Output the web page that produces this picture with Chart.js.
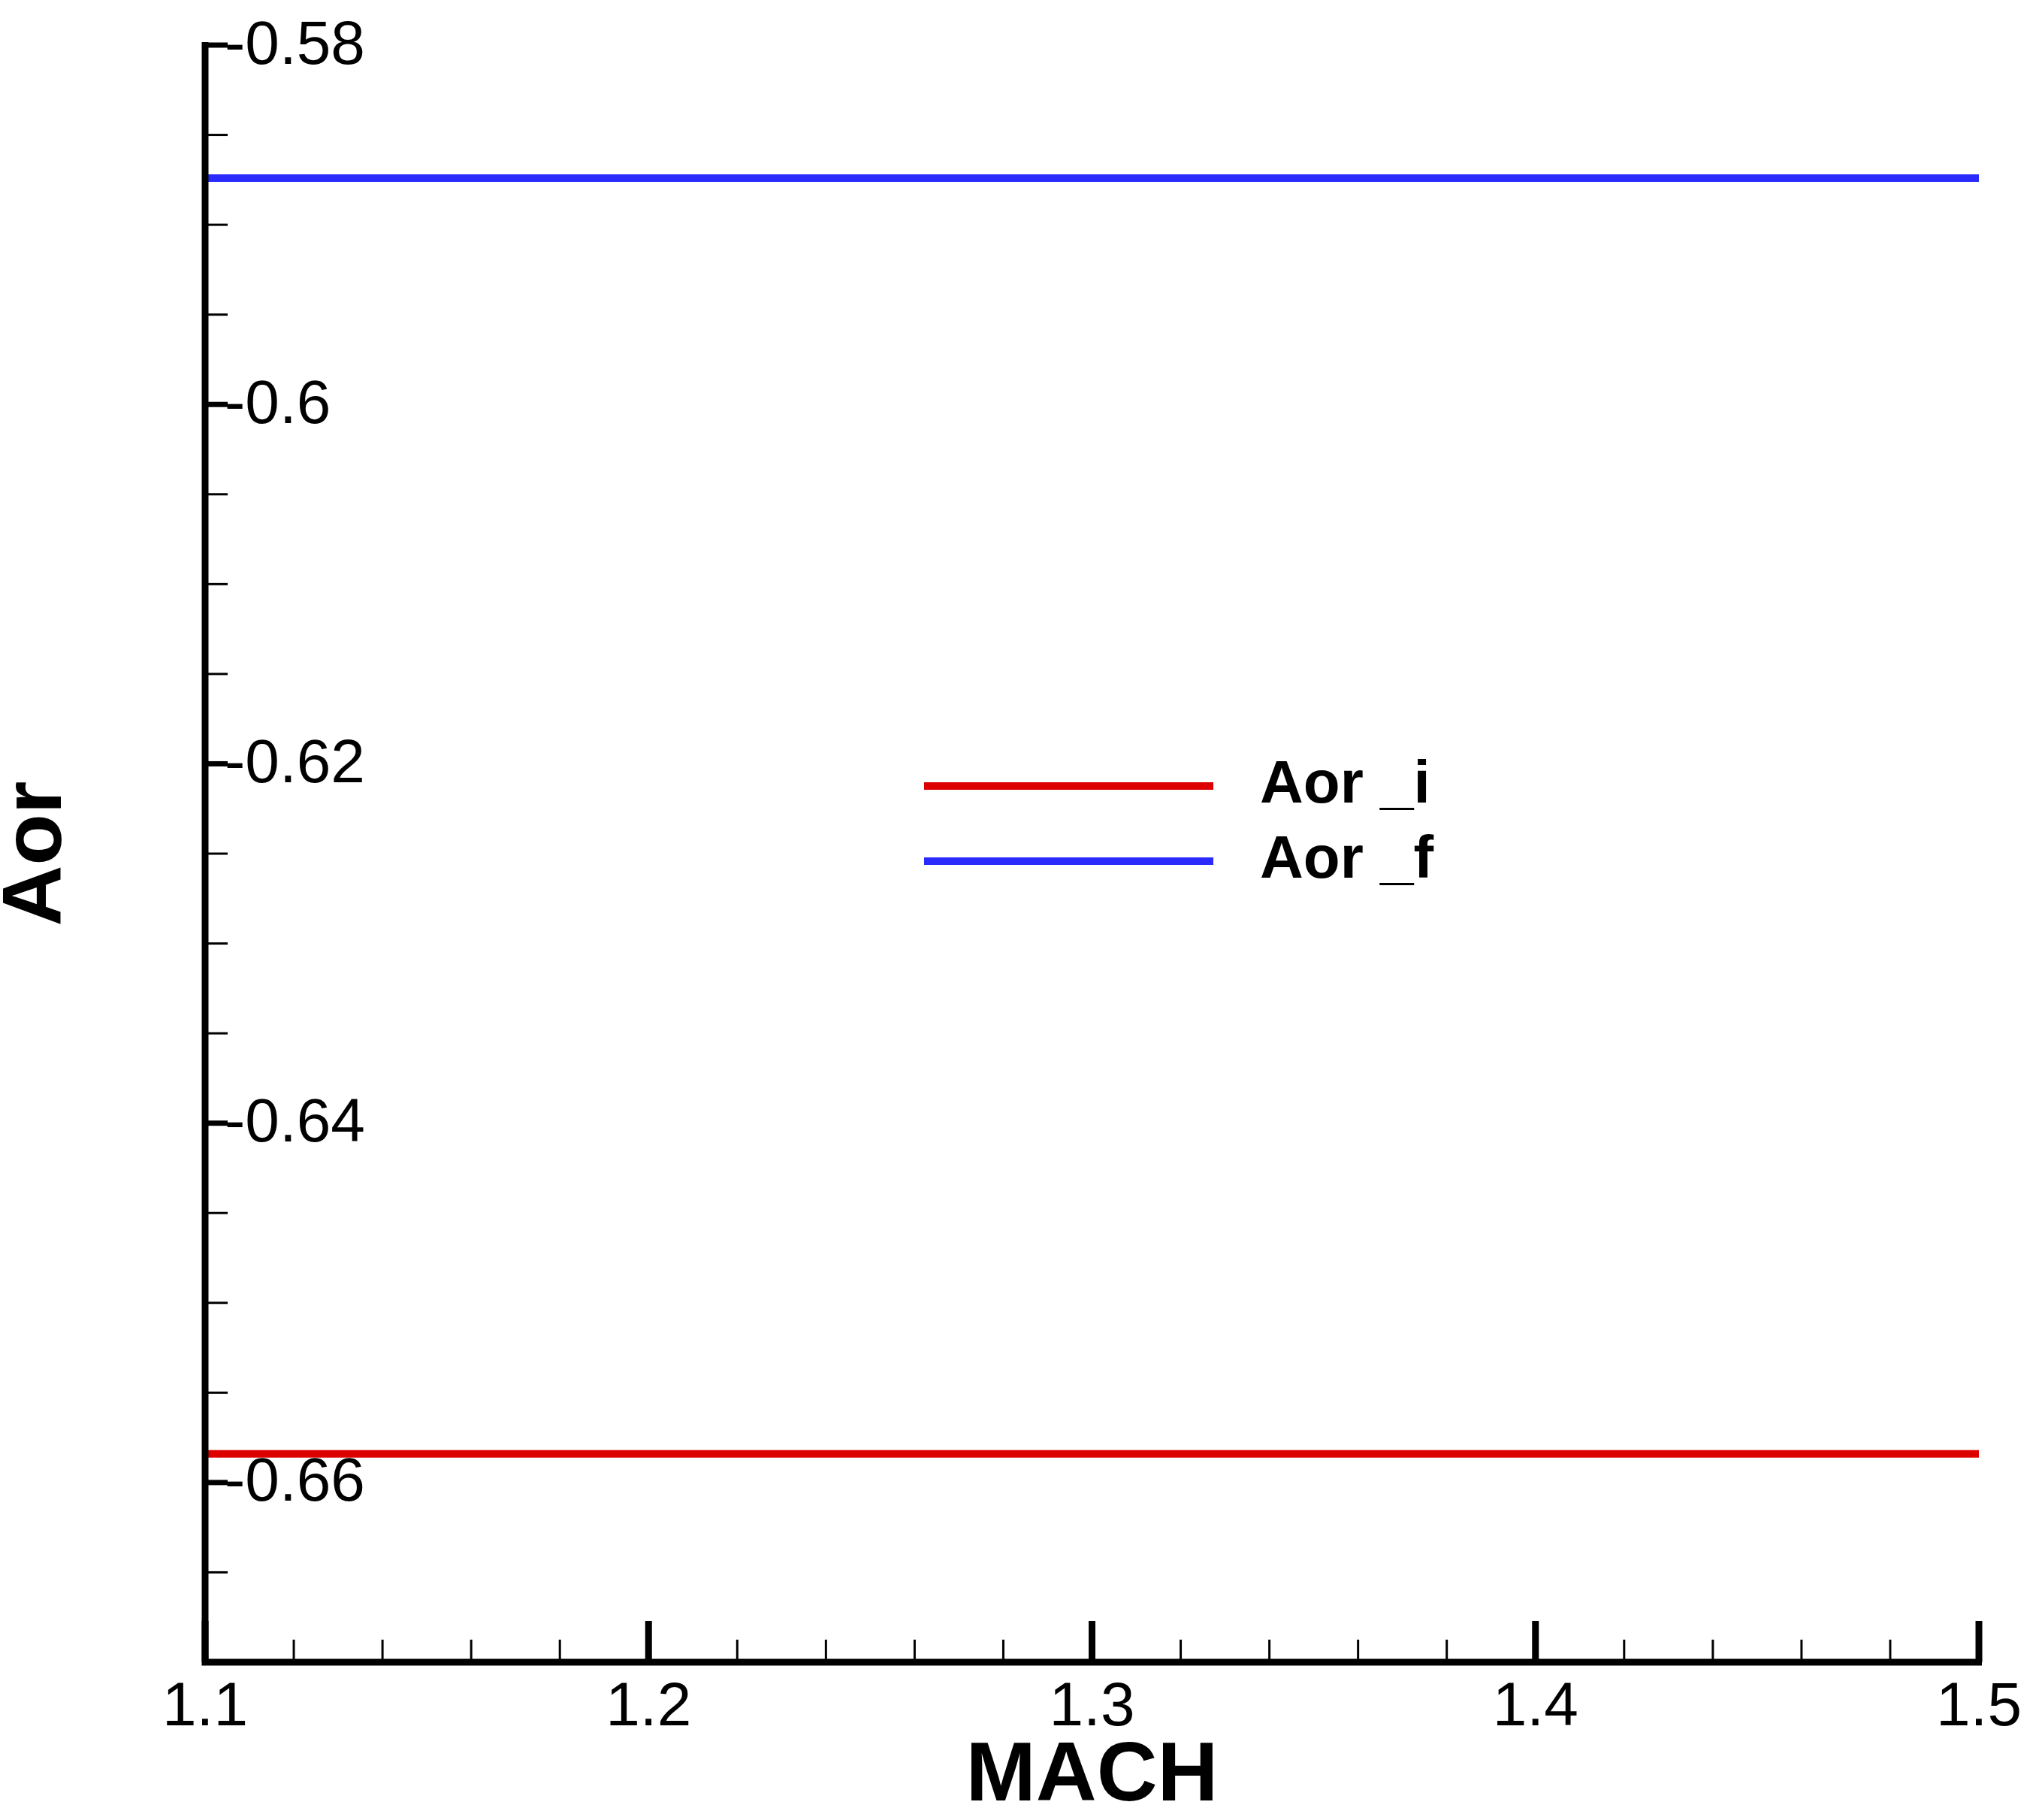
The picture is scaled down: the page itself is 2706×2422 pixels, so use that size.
<!DOCTYPE html>
<html><head><meta charset="utf-8">
<script src="https://cdn.jsdelivr.net/npm/chart.js@4/dist/chart.umd.min.js"></script>
<style>html,body{margin:0;padding:0;background:#fff}#w{width:2706px;height:2422px}</style>
</head><body><div id="w"><canvas id="c"></canvas></div>
<script>
const machValues = [1.1, 1.5];
const aorI = [-0.6584, -0.6584];
const aorF = [-0.5874, -0.5874];
const seriesNames = ['Aor _i', 'Aor _f'];
const seriesColors = ['#dd0000', '#2a2aff'];
const xTickLabels = ['1.1','1.2','1.3','1.4','1.5'];
const yTickLabels = ['-0.58','-0.6','-0.62','-0.64','-0.66'];
const xMin=1.1, xMax=1.5, yMin=-0.67, yMax=-0.58;
const FONT = '"Liberation Sans", Arial, sans-serif';

const axesPlugin = {
  id:'axesPlugin',
  afterDraw(chart){
    const ctx=chart.ctx, a=chart.chartArea, xs=chart.scales.x, ys=chart.scales.y;
    ctx.save();
    ctx.strokeStyle='#000'; ctx.lineCap='butt';
    ctx.lineWidth=9;
    ctx.beginPath(); ctx.moveTo(a.left,a.top-4); ctx.lineTo(a.left,a.bottom); ctx.lineTo(a.right+4,a.bottom); ctx.stroke();
    // y ticks
    for(let i=0;i<=18;i++){
      const v=yMax-i*0.005; if(v<yMin-1e-9) break;
      const p=ys.getPixelForValue(v); const major=i%4===0;
      ctx.lineWidth=major?7:3;
      ctx.beginPath(); ctx.moveTo(a.left,p); ctx.lineTo(a.left+(major?30:30),p); ctx.stroke();
    }
    // x ticks
    for(let i=0;i<=20;i++){
      const v=xMin+i*0.02; const p=xs.getPixelForValue(v); const major=i%5===0;
      ctx.lineWidth=major?9:3;
      ctx.beginPath(); ctx.moveTo(p,a.bottom); ctx.lineTo(p,a.bottom-(major?55:30)); ctx.stroke();
    }
    ctx.fillStyle='#000';
    ctx.font='82px '+FONT;
    ctx.textAlign='left'; ctx.textBaseline='middle';
    yTickLabels.forEach(t=>{ ctx.fillText(t, a.left+26, ys.getPixelForValue(parseFloat(t))+2); });
    ctx.textAlign='center'; ctx.textBaseline='top';
    xTickLabels.forEach(t=>{ ctx.fillText(t, xs.getPixelForValue(parseFloat(t)), a.bottom+20); });
    ctx.font='bold 112px '+FONT;
    ctx.fillText('MACH', xs.getPixelForValue(1.3), a.bottom+97);
    ctx.save(); ctx.translate(50,(a.top+a.bottom)/2+0); ctx.rotate(-Math.PI/2);
    ctx.textBaseline='middle'; ctx.fillText('Aor',0,0); ctx.restore();
    // legend
    ctx.font='bold 80px '+FONT; ctx.textAlign='left'; ctx.textBaseline='middle';
    [1046,1146].forEach((y,i)=>{
      ctx.strokeStyle=seriesColors[i]; ctx.lineWidth=10;
      ctx.beginPath(); ctx.moveTo(1230,y); ctx.lineTo(1615,y); ctx.stroke();
      ctx.fillText(seriesNames[i],1677,y);
    });
    ctx.restore();
  }
};

new Chart(document.getElementById('c'),{
  type:'line',
  data:{datasets:[
    {label:seriesNames[0],data:machValues.map((x,i)=>({x,y:aorI[i]})),borderColor:seriesColors[0],borderWidth:10,pointRadius:0},
    {label:seriesNames[1],data:machValues.map((x,i)=>({x,y:aorF[i]})),borderColor:seriesColors[1],borderWidth:10,pointRadius:0}
  ]},
  options:{
    responsive:true,maintainAspectRatio:false,animation:false,devicePixelRatio:1,
    layout:{padding:{left:273,top:60,right:72,bottom:210}},
    plugins:{legend:{display:false},tooltip:{enabled:false}},
    scales:{
      x:{type:'linear',min:xMin,max:xMax,display:false},
      y:{type:'linear',min:yMin,max:yMax,display:false}
    }
  },
  plugins:[axesPlugin]
});
</script></body></html>
